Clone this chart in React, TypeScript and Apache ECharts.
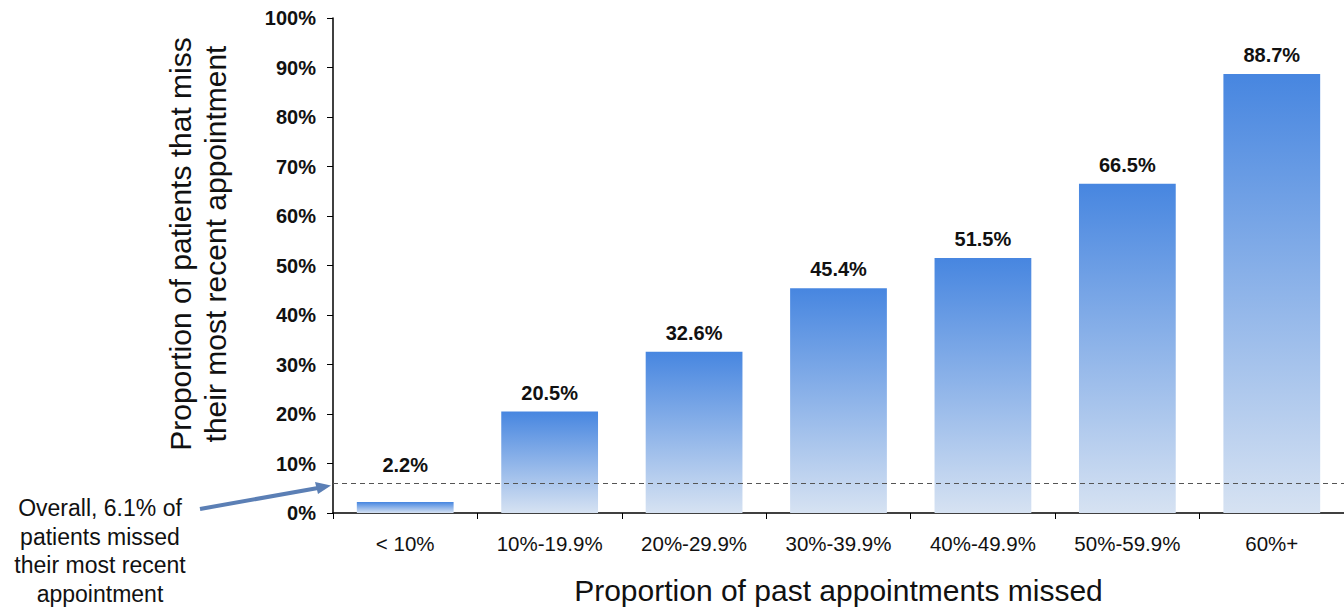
import React, { useEffect, useRef } from "react";
import * as echarts from "echarts";

const categories = ["< 10%", "10%-19.9%", "20%-29.9%", "30%-39.9%", "40%-49.9%", "50%-59.9%", "60%+"];
const values = [2.2, 20.5, 32.6, 45.4, 51.5, 66.5, 88.7];
const overall = 6.1;
const yTicks = [0, 10, 20, 30, 40, 50, 60, 70, 80, 90, 100];

export default function App() {
  const ref = useRef<HTMLDivElement>(null);
  useEffect(() => {
    const chart = echarts.init(ref.current!, null, { renderer: "svg" });
    const font = "Helvetica, Arial, 'Liberation Sans', sans-serif";
    const barData = values.map((v, i) =>
      i === 0 ? { value: v, label: { distance: 27 } } : { value: v }
    );
    chart.setOption({
      animation: false,
      textStyle: { fontFamily: font },
      grid: { left: 333, right: -2, top: 18, bottom: 94, containLabel: false },
      xAxis: {
        type: "category",
        data: categories,
        axisLine: { lineStyle: { color: "#000", width: 1.5 } },
        axisTick: { show: true, alignWithLabel: false, length: 6, lineStyle: { color: "#000" } },
        axisLabel: { color: "#111", fontSize: 20.5, margin: 20, fontFamily: font },
        name: "Proportion of past appointments missed",
        nameLocation: "middle",
        nameGap: 62,
        nameTextStyle: { color: "#111", fontSize: 30, fontFamily: font },
      },
      yAxis: {
        type: "value",
        min: 0,
        max: 100,
        interval: 10,
        axisLine: { show: true, lineStyle: { color: "#000", width: 1.5 } },
        axisTick: { show: true, length: 6, lineStyle: { color: "#000" } },
        splitLine: { show: false },
        axisLabel: {
          color: "#111",
          fontSize: 20,
          fontWeight: "bold",
          margin: 17,
          fontFamily: font,
          formatter: (v: number) => (yTicks.includes(v) ? v + "%" : ""),
        },
      },
      series: [
        {
          type: "bar",
          data: barData,
          barCategoryGap: "33%",
          itemStyle: {
            color: new echarts.graphic.LinearGradient(0, 0, 0, 1, [
              { offset: 0, color: "#4786e0" },
              { offset: 1, color: "#d6e2f2" },
            ]),
          },
          label: {
            show: true,
            position: "top",
            distance: 9,
            color: "#111",
            fontWeight: "bold",
            fontSize: 20,
            fontFamily: font,
            formatter: (p: any) => p.value.toFixed(1) + "%",
          },
          markLine: {
            silent: true,
            symbol: "none",
            label: { show: false },
            lineStyle: { color: "#555", type: [5, 4], width: 1 },
            data: [{ yAxis: overall }],
          },
        },
      ],
      graphic: [
        {
          type: "text",
          x: 198,
          y: 244,
          rotation: Math.PI / 2,
          style: {
            text: "Proportion of patients that miss\ntheir most recent appointment",
            fill: "#111",
            fontSize: 30,
            lineHeight: 35,
            textAlign: "center",
            textVerticalAlign: "middle",
            fontFamily: font,
          },
        },
        {
          type: "text",
          x: 100,
          y: 494,
          style: {
            text: "Overall, 6.1% of\npatients missed\ntheir most recent\nappointment",
            fill: "#111",
            fontSize: 23,
            lineHeight: 28.5,
            textAlign: "center",
            textVerticalAlign: "top",
            fontFamily: font,
          },
        },
        {
          type: "line",
          shape: { x1: 200, y1: 509, x2: 318, y2: 488 },
          style: { stroke: "#5b7fb5", lineWidth: 4 },
        },
        {
          type: "polygon",
          shape: { points: [[331, 485.5], [315, 482], [318, 494]] },
          style: { fill: "#5b7fb5" },
        },
      ],
    });
    return () => chart.dispose();
  }, []);
  return <div ref={ref} style={{ position: "fixed", left: 0, top: 0, width: 1344, height: 610, background: "#fff" }} />;
}
